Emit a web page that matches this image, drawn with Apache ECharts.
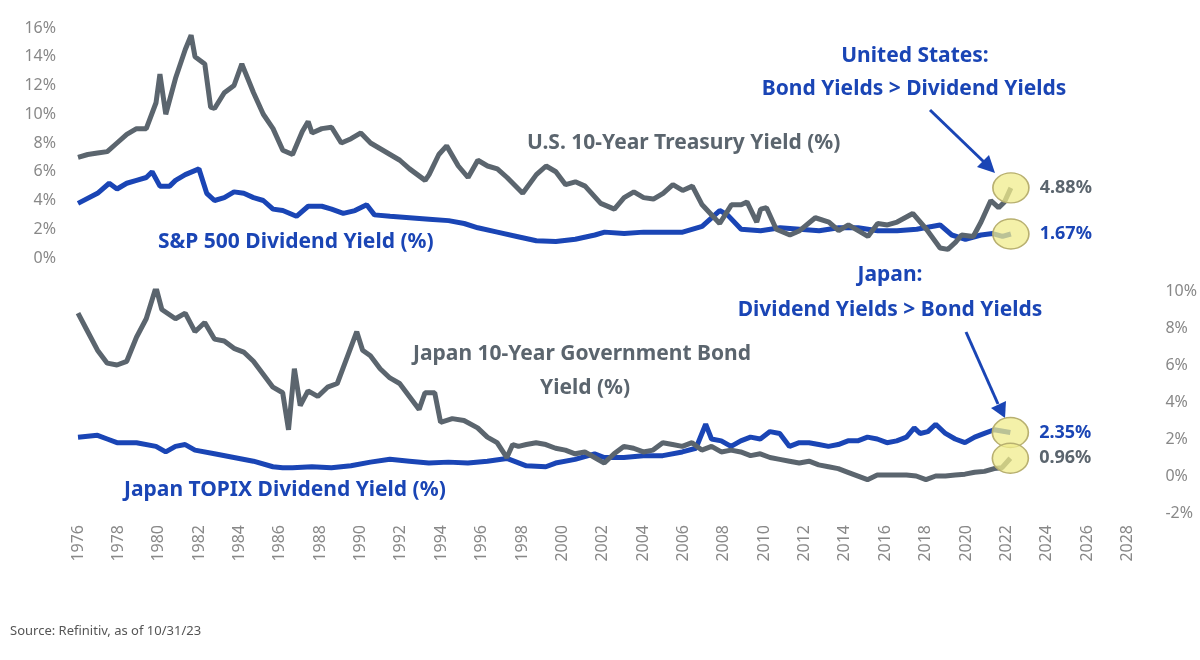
<!DOCTYPE html>
<html>
<head>
<meta charset="utf-8">
<script src="https://cdn.jsdelivr.net/npm/echarts@6/dist/echarts.min.js"></script>
<style>html,body{margin:0;background:#fff}#main{width:1200px;height:660px}</style>
</head>
<body>
<div id="main"></div>
<script>
// [year, %] pairs (years as first read; the chart's date axis is slightly compressed, see toAxis)
var usBond = [[1976,7.0],[1976.5,7.2],[1977,7.3],[1977.5,7.4],[1978,8.0],[1978.5,8.6],[1979,9.0],[1979.5,9.0],[1980,10.8],[1980.2,12.8],[1980.5,10.0],[1981,12.5],[1981.5,14.5],[1981.8,15.5],[1982,14.0],[1982.5,13.5],[1982.8,10.5],[1983,10.4],[1983.5,11.5],[1984,12.0],[1984.4,13.5],[1985,11.5],[1985.5,10.0],[1986,9.0],[1986.5,7.5],[1987,7.2],[1987.5,8.8],[1987.8,9.5],[1988,8.7],[1988.5,9.0],[1989,9.1],[1989.5,8.0],[1990,8.3],[1990.5,8.7],[1991,8.0],[1991.5,7.6],[1992,7.2],[1992.5,6.8],[1993,6.2],[1993.8,5.4],[1994,5.8],[1994.5,7.2],[1994.9,7.8],[1995.5,6.4],[1996,5.6],[1996.5,6.8],[1997,6.4],[1997.5,6.2],[1998,5.6],[1998.8,4.5],[1999.5,5.8],[2000,6.4],[2000.5,6.0],[2001,5.1],[2001.5,5.3],[2002,5.0],[2002.8,3.8],[2003.5,3.4],[2004,4.2],[2004.5,4.6],[2005,4.2],[2005.5,4.1],[2006,4.5],[2006.5,5.1],[2007,4.7],[2007.5,5.0],[2008,3.7],[2008.9,2.4],[2009.5,3.7],[2010,3.7],[2010.3,3.9],[2010.8,2.5],[2011,3.4],[2011.3,3.5],[2011.8,2.0],[2012.5,1.6],[2013,1.9],[2013.8,2.8],[2014.5,2.5],[2015,1.9],[2015.5,2.3],[2016.5,1.5],[2017,2.4],[2017.5,2.3],[2018,2.5],[2018.8,3.1],[2019.5,2.0],[2020.2,0.7],[2020.6,0.6],[2021,1.1],[2021.3,1.6],[2021.9,1.5],[2022.3,2.5],[2022.8,4.0],[2023.2,3.5],[2023.5,3.9],[2023.83,4.88]];
var usDiv = [[1976,3.8],[1977,4.5],[1977.6,5.2],[1978,4.8],[1978.5,5.2],[1979,5.4],[1979.5,5.6],[1979.8,6.0],[1980.2,5.0],[1980.7,5.0],[1981,5.4],[1981.5,5.8],[1982.2,6.2],[1982.6,4.5],[1983,4.0],[1983.5,4.2],[1984,4.6],[1984.5,4.5],[1985,4.2],[1985.5,4.0],[1986,3.4],[1986.5,3.3],[1987.2,2.9],[1987.8,3.6],[1988.5,3.6],[1989,3.4],[1989.6,3.1],[1990.2,3.3],[1990.8,3.7],[1991.2,3.0],[1992,2.9],[1993,2.8],[1994,2.7],[1995,2.6],[1995.8,2.4],[1996.5,2.1],[1997.5,1.8],[1998.5,1.5],[1999.5,1.2],[2000.5,1.15],[2001.5,1.3],[2002.5,1.6],[2003,1.8],[2004,1.7],[2005,1.8],[2006,1.8],[2007,1.8],[2008,2.2],[2008.9,3.3],[2009.3,3.0],[2010,2.0],[2011,1.9],[2012,2.1],[2013,2.0],[2014,1.9],[2015,2.1],[2016,2.1],[2017,1.9],[2018,1.9],[2019,2.0],[2020.2,2.3],[2020.8,1.6],[2021.5,1.3],[2022.3,1.6],[2022.9,1.7],[2023.4,1.5],[2023.83,1.67]];
var jpBond = [[1976,8.8],[1976.4,8.0],[1977,6.8],[1977.5,6.1],[1978,6.0],[1978.5,6.2],[1979,7.5],[1979.5,8.5],[1980,10.2],[1980.3,9.0],[1981,8.5],[1981.5,8.8],[1982,7.8],[1982.5,8.3],[1983,7.4],[1983.5,7.3],[1984,6.9],[1984.5,6.7],[1985,6.2],[1985.5,5.5],[1986,4.8],[1986.5,4.5],[1986.8,2.5],[1987.1,5.8],[1987.4,3.8],[1987.8,4.6],[1988.3,4.3],[1988.8,4.8],[1989.3,5.0],[1989.8,6.4],[1990.3,7.8],[1990.6,6.8],[1991,6.5],[1991.5,5.8],[1992,5.3],[1992.5,5.0],[1993,4.3],[1993.5,3.6],[1993.8,4.5],[1994.3,4.5],[1994.6,2.9],[1995.2,3.1],[1995.8,3.0],[1996.5,2.6],[1997,2.1],[1997.5,1.8],[1998,1.0],[1998.3,1.7],[1998.6,1.6],[1999,1.7],[1999.5,1.8],[2000,1.7],[2000.5,1.5],[2001,1.4],[2001.5,1.2],[2002,1.3],[2002.5,1.0],[2003,0.7],[2003.5,1.2],[2004,1.6],[2004.5,1.5],[2005,1.3],[2005.5,1.4],[2006,1.8],[2006.5,1.7],[2007,1.6],[2007.5,1.8],[2008,1.4],[2008.5,1.6],[2009,1.3],[2009.5,1.4],[2010,1.3],[2010.5,1.1],[2011,1.2],[2011.5,1.0],[2012,0.9],[2012.5,0.8],[2013,0.7],[2013.5,0.8],[2014,0.6],[2014.5,0.5],[2015,0.4],[2015.5,0.2],[2016.5,-0.2],[2017,0.05],[2017.5,0.05],[2018,0.05],[2018.5,0.05],[2019,0.0],[2019.5,-0.2],[2020,0.0],[2020.5,0.0],[2021,0.05],[2021.5,0.1],[2022,0.2],[2022.5,0.25],[2023,0.4],[2023.4,0.45],[2023.83,0.96]];
var jpDiv = [[1976,2.1],[1977,2.2],[1977.5,2.0],[1978,1.8],[1979,1.8],[1980,1.6],[1980.5,1.3],[1981,1.6],[1981.5,1.7],[1982,1.4],[1983,1.2],[1984,1.0],[1985,0.8],[1986,0.5],[1986.5,0.45],[1987,0.45],[1988,0.5],[1989,0.45],[1990,0.55],[1991,0.75],[1992,0.9],[1993,0.8],[1994,0.7],[1995,0.75],[1996,0.7],[1997,0.8],[1998,0.95],[1999,0.55],[2000,0.5],[2000.5,0.7],[2001.5,0.9],[2002.5,1.2],[2003,1.0],[2004,1.0],[2005,1.1],[2006,1.1],[2007,1.3],[2007.7,1.5],[2008.2,2.8],[2008.5,2.0],[2009,1.9],[2009.5,1.6],[2010,1.9],[2010.5,2.1],[2011,2.0],[2011.5,2.4],[2012,2.3],[2012.5,1.6],[2013,1.8],[2013.5,1.8],[2014,1.7],[2014.5,1.6],[2015,1.7],[2015.5,1.9],[2016,1.9],[2016.5,2.1],[2017,2.0],[2017.5,1.8],[2018,1.9],[2018.5,2.1],[2018.9,2.6],[2019.2,2.3],[2019.6,2.4],[2020,2.8],[2020.5,2.3],[2021,2.0],[2021.5,1.8],[2022,2.1],[2022.5,2.3],[2023,2.5],[2023.83,2.35]];

// in the picture the series end (Oct 2023) sits at about the 2022.2 tick position
function toAxis(d){ return d.map(function(p){ return [1976 + (p[0]-1976)*46.2/47.83, p[1]]; }); }

var GRAY = '#5b656e', BLUE = '#1a45b5', FONT = '"Noto Sans", sans-serif';
var END = 2022.2;

var chart = echarts.init(document.getElementById('main'));

function endMark(val, color){
    return {
        symbol:'circle', symbolSize:[36,30],
        itemStyle:{color:'rgba(240,236,140,0.75)', borderColor:'#b8b070', borderWidth:1.5},
        label:{show:true, position:'right', distance:10, formatter:val.toFixed(2)+'%', color:color, fontWeight:'bold', fontSize:18, fontFamily:FONT},
        data:[{coord:[END,val]}]
    };
}
function line(name, data, color, idx, mark){
    return {name:name, type:'line', data:toAxis(data), xAxisIndex:idx, yAxisIndex:idx, showSymbol:false,
        lineStyle:{color:color, width:5}, z: color==GRAY?3:2, markPoint:mark};
}

var axisLab = {color:'#888', fontSize:16, fontFamily:FONT};
var option = {
    animation:false,
    grid:[{left:78, right:72, top:28, height:230}, {left:78, right:72, top:291, height:222}],
    xAxis:[
        {type:'value', gridIndex:0, min:1976, max:2028, interval:2, show:false},
        {type:'value', gridIndex:1, min:1976, max:2028, interval:2, axisLine:{show:false}, axisTick:{show:false}, splitLine:{show:false},
         axisLabel:Object.assign({rotate:90, margin:12, formatter:function(v){return String(v);}}, axisLab)}
    ],
    yAxis:[
        {type:'value', gridIndex:0, min:0, max:16, interval:2, splitLine:{show:false}, axisLine:{show:false}, axisTick:{show:false},
         axisLabel:Object.assign({margin:22, formatter:'{value}%'}, axisLab)},
        {type:'value', gridIndex:1, position:'right', min:-2, max:10, interval:2, splitLine:{show:false}, axisLine:{show:false}, axisTick:{show:false},
         axisLabel:Object.assign({margin:38, formatter:'{value}%'}, axisLab)}
    ],
    series:[
        line('S&P 500 Dividend Yield', usDiv, BLUE, 0, endMark(1.67, BLUE)),
        line('U.S. 10-Year Treasury Yield', usBond, GRAY, 0, endMark(4.88, GRAY)),
        line('Japan TOPIX Dividend Yield', jpDiv, BLUE, 1, endMark(2.35, BLUE)),
        line('Japan 10-Year Government Bond Yield', jpBond, GRAY, 1, endMark(0.96, GRAY))
    ],
    graphic:[
        {type:'text', left:527, top:133, style:{text:'U.S. 10-Year Treasury Yield (%)', fill:GRAY, font:'bold 21px '+FONT}},
        {type:'text', left:158, top:232, style:{text:'S&P 500 Dividend Yield (%)', fill:BLUE, font:'bold 21px '+FONT}},
        {type:'text', left:413, top:344, style:{text:'Japan 10-Year Government Bond', fill:GRAY, font:'bold 21px '+FONT}},
        {type:'text', left:540, top:378, style:{text:'Yield (%)', fill:GRAY, font:'bold 21px '+FONT}},
        {type:'text', left:124, top:480, style:{text:'Japan TOPIX Dividend Yield (%)', fill:BLUE, font:'bold 21px '+FONT}},
        {type:'text', x:915, y:56, style:{text:'United States:', fill:BLUE, font:'bold 21px '+FONT, textAlign:'center', textVerticalAlign:'middle'}},
        {type:'text', x:914, y:89, style:{text:'Bond Yields > Dividend Yields', fill:BLUE, font:'bold 21px '+FONT, textAlign:'center', textVerticalAlign:'middle'}},
        {type:'text', x:890, y:275, style:{text:'Japan:', fill:BLUE, font:'bold 21px '+FONT, textAlign:'center', textVerticalAlign:'middle'}},
        {type:'text', x:890, y:310, style:{text:'Dividend Yields > Bond Yields', fill:BLUE, font:'bold 21px '+FONT, textAlign:'center', textVerticalAlign:'middle'}},
        {type:'line', shape:{x1:930, y1:110, x2:984, y2:162}, style:{stroke:BLUE, lineWidth:3}},
        {type:'polygon', shape:{points:[[995,173],[977,167],[989,155]]}, style:{fill:BLUE}},
        {type:'line', shape:{x1:966, y1:332, x2:998, y2:404}, style:{stroke:BLUE, lineWidth:3}},
        {type:'polygon', shape:{points:[[1005,418],[991,408],[1006,401]]}, style:{fill:BLUE}},
        {type:'text', left:10, top:625, style:{text:'Source: Refinitiv, as of 10/31/23', fill:'#555', font:'13px '+FONT}}
    ]
};
chart.setOption(option);
</script>
</body>
</html>
